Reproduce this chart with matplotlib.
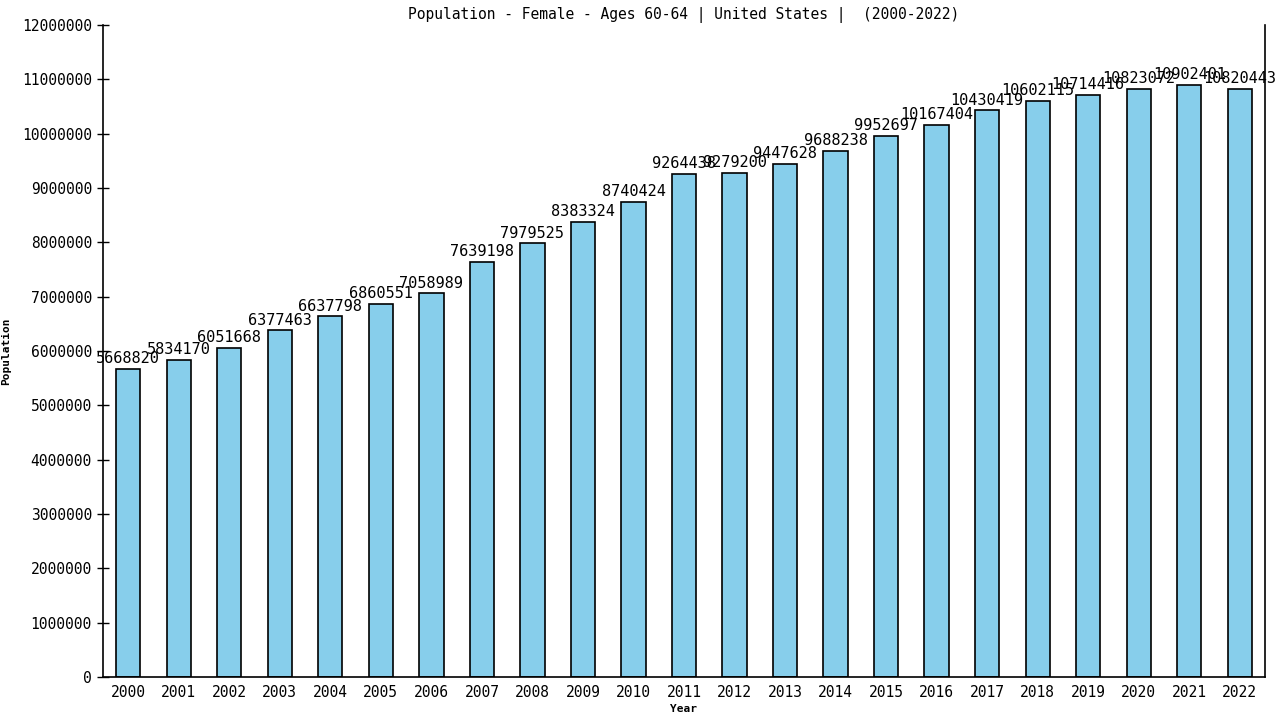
import matplotlib
matplotlib.use("Agg")
import matplotlib.pyplot as plt

years = [str(y) for y in range(2000, 2023)]
population = [5668820, 5834170, 6051668, 6377463, 6637798, 6860551, 7058989,
              7639198, 7979525, 8383324, 8740424, 9264438, 9279200, 9447628,
              9688238, 9952697, 10167404, 10430419, 10602115, 10714416,
              10823072, 10902401, 10820443]
yticks = list(range(0, 12000001, 1000000))

plt.rcParams['font.family'] = ['DejaVu Sans Mono']

fig = plt.figure(figsize=(12.8, 7.2), dpi=100)
ax = fig.add_axes([103/1280, 43/720, (1265-103)/1280, (677-25)/720])

x = list(range(len(years)))
ax.bar(x, population, width=0.48, color='#87CEEB', edgecolor='black', linewidth=1.2)
for xi, v in zip(x, population):
    ax.annotate(str(v), (xi, v), xytext=(0, 2), textcoords='offset points',
                ha='center', va='bottom', fontsize=11)

ax.set_xlim(-0.5, len(years) - 0.5)
ax.set_ylim(0, 12000000)
ax.set_xticks(x)
ax.set_xticklabels(years, fontsize=10.5)
ax.set_yticks(yticks)
ax.set_yticklabels([str(t) for t in yticks], fontsize=10.5)
ax.tick_params(axis='y', direction='inout', length=9, width=1)
ax.tick_params(axis='x', length=0, pad=6)
ax.spines['top'].set_visible(False)
for s in ['left', 'right', 'bottom']:
    ax.spines[s].set_linewidth(1.2)

ax.set_title('Population - Female - Ages 60-64 | United States |  (2000-2022)',
             fontsize=10.5, pad=4)
ax.set_xlabel('Year', fontsize=8, fontweight='bold', labelpad=3)
ax.set_ylabel('Population', fontsize=8, fontweight='bold', labelpad=8)

fig.savefig('out.png', dpi=100)
